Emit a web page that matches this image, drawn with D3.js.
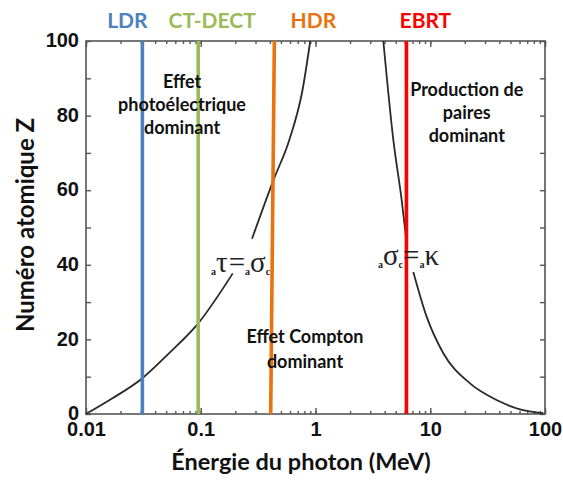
<!DOCTYPE html>
<html><head><meta charset="utf-8">
<script src="https://cdn.jsdelivr.net/npm/d3@7"></script>
<style>
html,body{margin:0;padding:0;background:#fff;}
svg{display:block;}
</style></head>
<body>
<svg id="chart" width="563" height="482"></svg>
<script>
// ---------- data ----------
const energyMajorTicks = [0.01, 0.1, 1, 10, 100];
const energyTickLabels = ["0.01", "0.1", "1", "10", "100"];
const zTicks = [0, 10, 20, 30, 40, 50, 60, 70, 80, 90, 100];
const zTickLabels = ["0", "", "20", "", "40", "", "60", "", "80", "", "100"];

// boundary photoelectric / Compton (aτ = aσc)
const photoComptonLowE = [0.01, 0.017, 0.031, 0.053, 0.095, 0.19];
const photoComptonLowZ = [0, 4.2, 9.6, 16.3, 24.3, 37.7];
const photoComptonHighE = [0.28, 0.43, 0.59, 0.77, 0.9];
const photoComptonHighZ = [47, 62.7, 73.4, 86.8, 100];

// boundary Compton / pair production (aσc = aκ)
const comptonPairHighE = [3.9, 4.77, 5.64, 6.15];
const comptonPairHighZ = [100, 73.4, 57.3, 47.5];
const comptonPairLowE = [7.12, 9.3, 13.0, 22.2, 37.9, 60.5, 96.6];
const comptonPairLowZ = [38.1, 26.1, 16.3, 8.2, 3.75, 1.25, 0.2];

// treatment / imaging energies
const modalityNames = ["LDR", "CT-DECT", "HDR", "EBRT"];
const modalityEnergyTop = [0.031, 0.095, 0.438, 6.2];
const modalityEnergyBottom = [0.031, 0.095, 0.407, 6.2];
const modalityColors = ["#4F81BD", "#9BBB59", "#E8730F", "#FF0000"];
const modalityLabelDx = [-15, 14, 39, 19];

// ---------- layout ----------
const svg = d3.select("#chart");
const M = {left: 86, right: 545, top: 41, bottom: 414};
const x = d3.scaleLog().domain([0.01, 100]).range([M.left, M.right]);
const y = d3.scaleLinear().domain([0, 100]).range([M.bottom, M.top]);

const axisColor = "#555";
const allTicks = x.ticks();

function styleAxis(g) {
  g.select(".domain").remove();
  g.selectAll(".tick line").attr("stroke", axisColor).attr("stroke-width", 1.4);
  g.selectAll(".tick text").attr("fill", "#111")
    .style("font-family", "'Liberation Sans', Arial, sans-serif")
    .style("font-weight", "bold").style("font-size", "20px");
}

// minor ticks bottom/top
svg.append("g").attr("transform", `translate(0,${M.bottom})`)
  .call(d3.axisBottom(x).tickValues(allTicks).tickSize(-3).tickFormat(""))
  .call(styleAxis);
svg.append("g").attr("transform", `translate(0,${M.top})`)
  .call(d3.axisTop(x).tickValues(allTicks).tickSize(-3).tickFormat(""))
  .call(styleAxis);
// major ticks
svg.append("g").attr("transform", `translate(0,${M.bottom})`)
  .call(d3.axisBottom(x).tickValues(energyMajorTicks).tickSize(-6).tickPadding(8)
    .tickFormat((d, i) => energyTickLabels[i]))
  .call(styleAxis);
svg.append("g").attr("transform", `translate(0,${M.top})`)
  .call(d3.axisTop(x).tickValues(energyMajorTicks).tickSize(-6).tickFormat(""))
  .call(styleAxis);
// y axes
const yAxisG = svg.append("g").attr("transform", `translate(${M.left},0)`)
  .call(d3.axisLeft(y).tickValues(zTicks).tickSize(-5).tickPadding(7)
    .tickFormat((d, i) => zTickLabels[i]))
  .call(styleAxis);
yAxisG.selectAll(".tick text").attr("dy", "0.28em");
svg.append("g").attr("transform", `translate(${M.right},0)`)
  .call(d3.axisRight(y).tickValues(zTicks).tickSize(-5).tickFormat(""))
  .call(styleAxis);

// frame
svg.append("rect")
  .attr("x", M.left).attr("y", M.top)
  .attr("width", M.right - M.left).attr("height", M.bottom - M.top)
  .attr("fill", "none").attr("stroke", axisColor).attr("stroke-width", 1.6);

// curves
const line = d3.line().x(d => x(d[0])).y(d => y(d[1])).curve(d3.curveMonotoneX);
const segments = [
  [photoComptonLowE, photoComptonLowZ],
  [photoComptonHighE, photoComptonHighZ],
  [comptonPairHighE, comptonPairHighZ],
  [comptonPairLowE, comptonPairLowZ]
];
segments.forEach(([E, Z]) => {
  svg.append("path")
    .datum(E.map((e, i) => [e, Z[i]]))
    .attr("d", line)
    .attr("fill", "none").attr("stroke", "#2a2a2a").attr("stroke-width", 1.8);
});

// modality vertical lines + labels
modalityNames.forEach((name, i) => {
  svg.append("line")
    .attr("x1", x(modalityEnergyTop[i])).attr("y1", y(100))
    .attr("x2", x(modalityEnergyBottom[i])).attr("y2", y(0))
    .attr("stroke", modalityColors[i]).attr("stroke-width", 3.6);
  svg.append("text")
    .attr("x", x(modalityEnergyTop[i]) + modalityLabelDx[i]).attr("y", 28)
    .attr("text-anchor", "middle")
    .attr("fill", modalityColors[i])
    .style("font-family", "Lato, 'Open Sans', sans-serif")
    .style("font-weight", "bold").style("font-size", "21px")
    .text(name);
});

// region annotations
const regionFont = "Lato, 'Open Sans', sans-serif";
function region(lines, e, z, lh) {
  const t = svg.append("text")
    .attr("text-anchor", "middle")
    .style("font-family", regionFont)
    .style("font-weight", "bold").style("font-size", "18px")
    .attr("fill", "#111");
  lines.forEach((s, i) => {
    t.append("tspan").attr("x", x(e)).attr("y", y(z) + 6 + i * lh).text(s);
  });
}
region(["Effet", "photoélectrique", "dominant"], 0.0687, 89.1, 23.3);
region(["Production de", "paires", "dominant"], 20.8, 86.9, 23.3);
region(["Effet Compton", "dominant"], 0.81, 20.7, 25);

// formula labels (serif)
function formula(parts, e, z) {
  const t = svg.append("text")
    .attr("x", x(e)).attr("y", y(z) + 7)
    .style("font-family", "'Liberation Serif', 'Times New Roman', serif")
    .style("font-size", "29px")
    .attr("fill", "#222");
  parts.forEach(p => {
    const ts = t.append("tspan")
      .attr("dy", p.dy || 0)
      .attr("dx", p.dx || 0)
      .text(p.t);
    if (p.sub) ts.style("font-size", "10px").style("font-weight", "bold");
  });
}
formula([
  {t: "a", sub: true, dy: 3}, {t: "τ", dy: -3}, {t: "=", dx: 1},
  {t: "a", sub: true, dy: 3}, {t: "σ", dy: -3}, {t: "c", sub: true, dy: 3}
], 0.123, 40);
formula([
  {t: "a", sub: true, dy: 3}, {t: "σ", dy: -3}, {t: "c", sub: true, dy: 3},
  {t: "=", dy: -3}, {t: "a", sub: true, dy: 3}, {t: "κ", dy: -3}
], 3.5, 41.8);

// axis titles
svg.append("text")
  .attr("x", 301).attr("y", 470)
  .attr("text-anchor", "middle")
  .style("font-family", regionFont).style("font-weight", "bold").style("font-size", "23.5px")
  .attr("fill", "#111")
  .text("Énergie du photon (MeV)");
svg.append("text")
  .attr("transform", `translate(34,225) rotate(-90)`)
  .attr("text-anchor", "middle")
  .style("font-family", regionFont).style("font-weight", "bold").style("font-size", "24px")
  .attr("fill", "#111")
  .text("Numéro atomique Z");
</script>
</body></html>
